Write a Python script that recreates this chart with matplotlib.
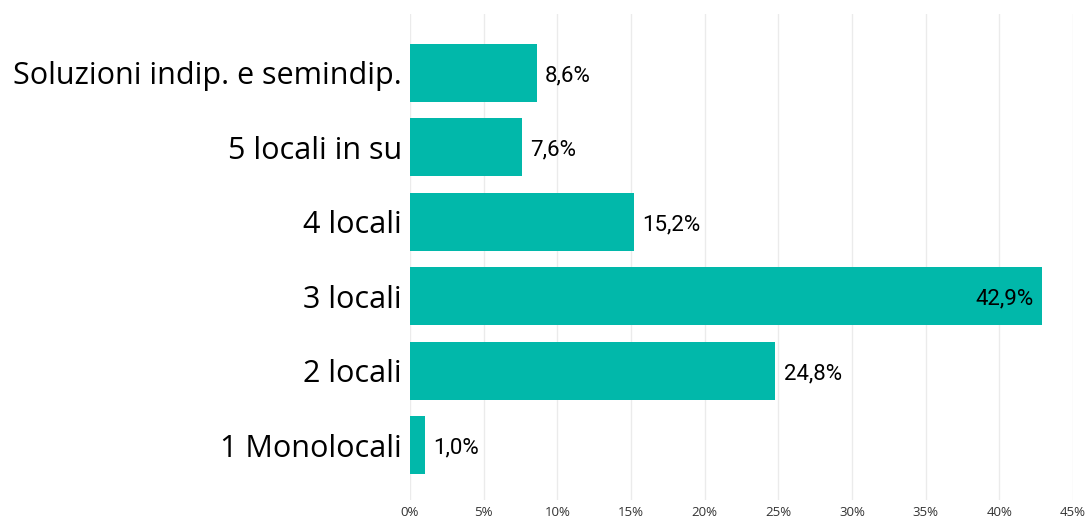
import matplotlib
matplotlib.use("Agg")
from matplotlib import pyplot as plt
import numpy as np

# categories from bottom to top
categories = ["1 Monolocali", "2 locali", "3 locali", "4 locali",
              "5 locali in su", "Soluzioni indip. e semindip."]
values = [1.0, 24.8, 42.9, 15.2, 7.6, 8.6]
value_labels = ["1,0%", "24,8%", "42,9%", "15,2%", "7,6%", "8,6%"]
xticks = [0, 5, 10, 15, 20, 25, 30, 35, 40, 45]

fig = plt.figure(figsize=(10.88, 5.23), dpi=100)
ax = fig.add_axes([410/1088, 23/523, 663/1088, 486/523])

y = np.arange(len(categories))
ax.barh(y, values, height=0.78, color="#01B8AA", zorder=2)

ax.set_xlim(0, 45)
ax.set_ylim(-0.737, 5.79)
ax.set_xticks(xticks)
ax.set_xticklabels([f"{t}%" for t in xticks], fontsize=9.5, color="#333333",
                   family=["Open Sans", "DejaVu Sans"])
ax.set_yticks(y)
ax.set_yticklabels(categories, fontsize=22, family=["Open Sans", "DejaVu Sans"])
ax.tick_params(axis="both", length=0)
ax.tick_params(axis="x", pad=4)
ax.tick_params(axis="y", pad=6)
ax.grid(axis="x", color="#ebebeb", linewidth=1, zorder=0)
for s in ax.spines.values():
    s.set_visible(False)

# value labels
for i, (v, lab) in enumerate(zip(values, value_labels)):
    if v > 40:
        ax.annotate(lab, (v, i), xytext=(-6, -2), textcoords="offset points",
                    ha="right", va="center", fontsize=16, family="Roboto")
    else:
        ax.annotate(lab, (v, i), xytext=(6, -2), textcoords="offset points",
                    ha="left", va="center", fontsize=16, family="Roboto")

fig.savefig("out.png", dpi=100)
